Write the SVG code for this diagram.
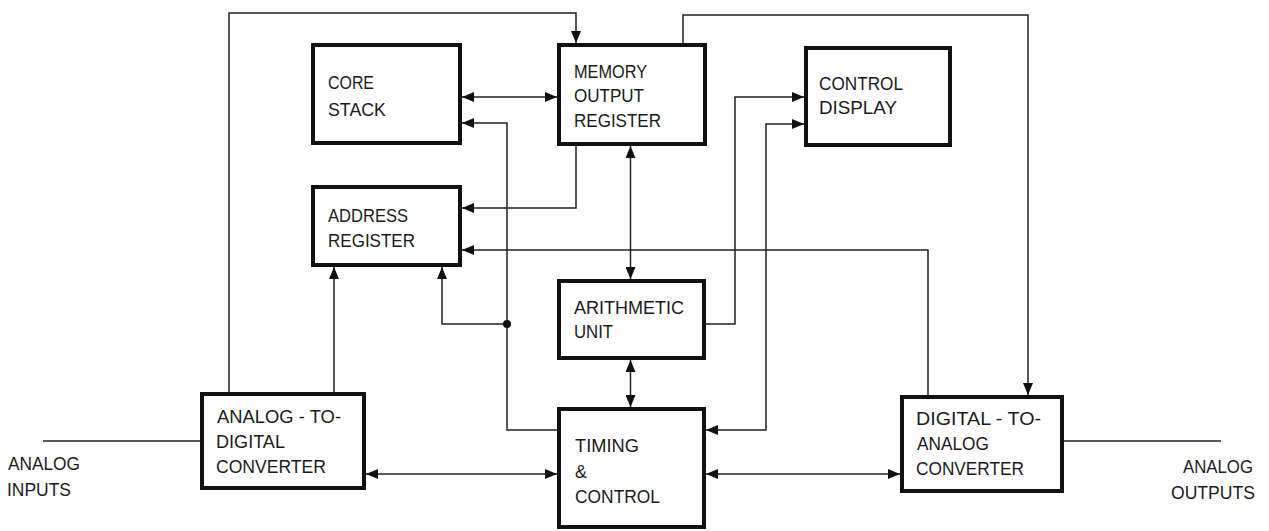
<svg xmlns="http://www.w3.org/2000/svg" width="1269" height="531" viewBox="0 0 1269 531">
<style>
.box{fill:#fff;stroke:#111;stroke-width:4}
.ln{fill:none;stroke:#222;stroke-width:1.5}
.t{font-family:"Liberation Sans",Arial,sans-serif;font-size:18px;fill:#1a1a1a}
</style>
<defs>
<marker id="ah" viewBox="0 0 12 10" refX="12" refY="5" markerWidth="12" markerHeight="10" markerUnits="userSpaceOnUse" orient="auto"><path d="M0,0 L12,5 L0,10 z" fill="#111"/></marker>
<marker id="as" viewBox="0 0 12 10" refX="12" refY="5" markerWidth="12" markerHeight="10" markerUnits="userSpaceOnUse" orient="auto-start-reverse"><path d="M0,0 L12,5 L0,10 z" fill="#111"/></marker>
</defs>
<rect width="1269" height="531" fill="#fff"/>
<g id="connectors">
<path class="ln" d="M229,392 V13 H576 V43" marker-end="url(#ah)"/>
<path class="ln" d="M334,392 V267" marker-end="url(#ah)"/>
<path class="ln" d="M462,97 H557" marker-start="url(#as)" marker-end="url(#ah)"/>
<path class="ln" d="M576,146 V208 H462" marker-end="url(#ah)"/>
<path class="ln" d="M630.5,146 V279" marker-start="url(#as)" marker-end="url(#ah)"/>
<path class="ln" d="M683,43 V15 H1028 V395" marker-end="url(#ah)"/>
<path class="ln" d="M706,324 H735 V97 H804" marker-end="url(#ah)"/>
<path class="ln" d="M706,430 H766 V124 H804" marker-start="url(#as)" marker-end="url(#ah)"/>
<path class="ln" d="M557,430 H507 V123 H462" marker-end="url(#ah)"/>
<path class="ln" d="M507,324 H442 V267" marker-end="url(#ah)"/>
<circle cx="507" cy="324" r="4" fill="#111"/>
<path class="ln" d="M928,395 V250 H462" marker-end="url(#ah)"/>
<path class="ln" d="M366,474 H557" marker-start="url(#as)" marker-end="url(#ah)"/>
<path class="ln" d="M706,474 H900" marker-start="url(#as)" marker-end="url(#ah)"/>
<path class="ln" d="M630.5,360 V407" marker-start="url(#as)" marker-end="url(#ah)"/>
<path class="ln" d="M43,441 H200"/>
<path class="ln" d="M1064,441 H1221"/>
</g>
<g id="core-stack">
<rect class="box" x="313" y="45" width="147" height="98"/>
<text class="t" x="328" y="89" textLength="46" lengthAdjust="spacingAndGlyphs">CORE</text>
<text class="t" x="328" y="116" textLength="58" lengthAdjust="spacingAndGlyphs">STACK</text>
</g>
<g id="memory-output-register">
<rect class="box" x="559" y="45" width="146" height="99"/>
<text class="t" x="574" y="78" textLength="73" lengthAdjust="spacingAndGlyphs">MEMORY</text>
<text class="t" x="574" y="102" textLength="70" lengthAdjust="spacingAndGlyphs">OUTPUT</text>
<text class="t" x="574" y="127" textLength="87" lengthAdjust="spacingAndGlyphs">REGISTER</text>
</g>
<g id="control-display">
<rect class="box" x="806" y="48" width="144" height="97"/>
<text class="t" x="819" y="90" textLength="84" lengthAdjust="spacingAndGlyphs">CONTROL</text>
<text class="t" x="819" y="114" textLength="78" lengthAdjust="spacingAndGlyphs">DISPLAY</text>
</g>
<g id="address-register">
<rect class="box" x="313" y="187" width="147" height="78"/>
<text class="t" x="328" y="222" textLength="80" lengthAdjust="spacingAndGlyphs">ADDRESS</text>
<text class="t" x="328" y="247" textLength="87" lengthAdjust="spacingAndGlyphs">REGISTER</text>
</g>
<g id="arithmetic-unit">
<rect class="box" x="559" y="281" width="145" height="77"/>
<text class="t" x="574" y="314" textLength="110" lengthAdjust="spacingAndGlyphs">ARITHMETIC</text>
<text class="t" x="574" y="338" textLength="39" lengthAdjust="spacingAndGlyphs">UNIT</text>
</g>
<g id="timing-control">
<rect class="box" x="559" y="409" width="145" height="118"/>
<text class="t" x="575" y="452" textLength="64" lengthAdjust="spacingAndGlyphs">TIMING</text>
<text class="t" x="575" y="478">&amp;</text>
<text class="t" x="575" y="503" textLength="85" lengthAdjust="spacingAndGlyphs">CONTROL</text>
</g>
<g id="adc">
<rect class="box" x="202" y="394" width="162" height="94"/>
<text class="t" x="217" y="423" textLength="124" lengthAdjust="spacingAndGlyphs">ANALOG - TO-</text>
<text class="t" x="216" y="448" textLength="69" lengthAdjust="spacingAndGlyphs">DIGITAL</text>
<text class="t" x="216" y="473" textLength="110" lengthAdjust="spacingAndGlyphs">CONVERTER</text>
</g>
<g id="dac">
<rect class="box" x="902" y="397" width="160" height="94"/>
<text class="t" x="916" y="425" textLength="125" lengthAdjust="spacingAndGlyphs">DIGITAL - TO-</text>
<text class="t" x="917" y="450" textLength="72" lengthAdjust="spacingAndGlyphs">ANALOG</text>
<text class="t" x="916" y="475" textLength="108" lengthAdjust="spacingAndGlyphs">CONVERTER</text>
</g>
<g id="analog-inputs">
<text class="t" x="8" y="470" textLength="72" lengthAdjust="spacingAndGlyphs">ANALOG</text>
<text class="t" x="7" y="496" textLength="64" lengthAdjust="spacingAndGlyphs">INPUTS</text>
</g>
<g id="analog-outputs">
<text class="t" x="1183" y="473" textLength="70" lengthAdjust="spacingAndGlyphs">ANALOG</text>
<text class="t" x="1171" y="499" textLength="84" lengthAdjust="spacingAndGlyphs">OUTPUTS</text>
</g>
</svg>
